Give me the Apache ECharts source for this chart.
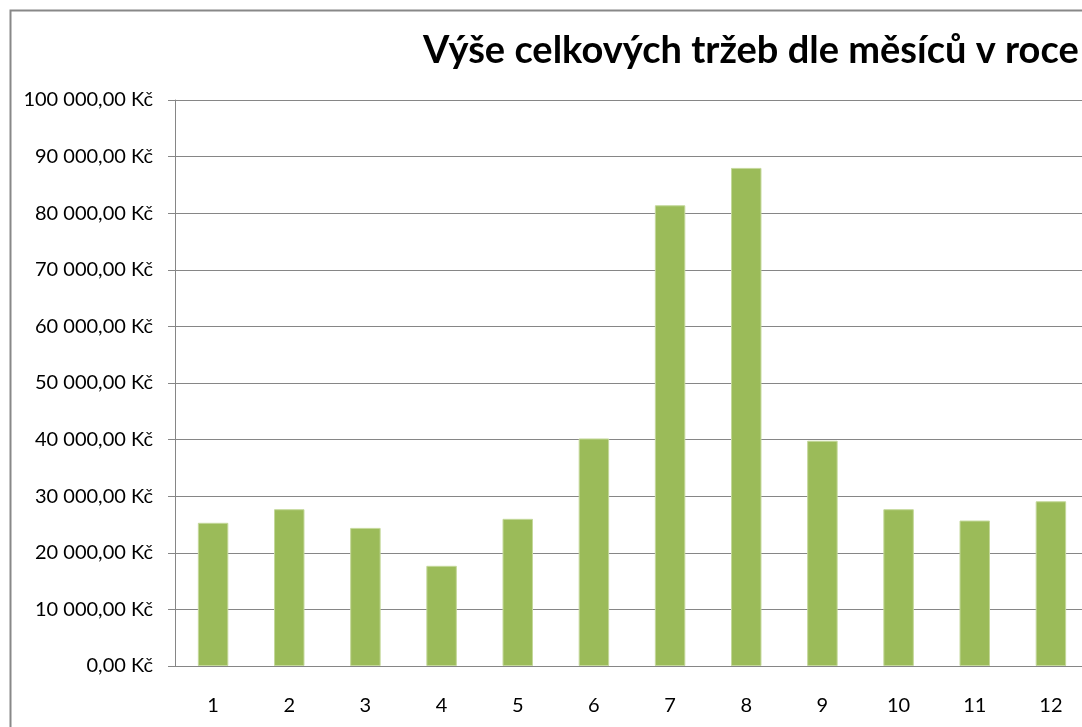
<!DOCTYPE html>
<html>
<head>
<meta charset="utf-8">
<script src="https://cdn.jsdelivr.net/npm/echarts@6/dist/echarts.min.js"></script>
<style>
  html, body { margin: 0; padding: 0; background: #fff; overflow: hidden; width: 1082px; height: 727px; }
  /* the original chart is cut off at the right edge */
  #chart { width: 1090px; height: 727px; }
</style>
</head>
<body>
<div id="chart"></div>
<script>
// měsíce a tržby (Kč)
const months = ['1', '2', '3', '4', '5', '6', '7', '8', '9', '10', '11', '12']
const revenue = [25300, 27700, 24400, 17700, 26000, 40200, 81400, 88000, 39800, 27700, 25700, 29100]
const titleText = 'Výše celkových tržeb dle měsíců v roce'

const FONT = 'Lato, "Open Sans", sans-serif'
const AXIS = '#868686'

function czk(v) {
  const s = Math.round(v).toString().replace(/\B(?=(\d{3})+(?!\d))/g, ' ')
  return s + ',00 Kč'
}

const chart = echarts.init(document.getElementById('chart'))
chart.setOption({
  animation: false,
  backgroundColor: '#fff',
  title: {
    text: titleText, left: 418, top: 27,
    textStyle: { fontFamily: FONT, fontWeight: 'bold', fontSize: 38, color: '#000' },
  },
  graphic: [{
    type: 'rect', left: 8, top: 8, silent: true,
    shape: { width: 1200, height: 900 },
    style: { fill: 'none', stroke: '#888', lineWidth: 2 },
  }],
  grid: { left: 175, right: 1, top: 100, bottom: 61 },
  xAxis: {
    type: 'category', data: months,
    axisLine: { lineStyle: { color: AXIS, width: 1 } },
    axisTick: { length: 7, lineStyle: { color: AXIS } },
    axisLabel: { color: '#000', fontFamily: FONT, fontSize: 20, margin: 30 },
  },
  yAxis: {
    type: 'value', min: 0, max: 100000, interval: 10000,
    axisLine: { show: true, lineStyle: { color: AXIS, width: 1 } },
    axisTick: { show: true, length: 7, lineStyle: { color: AXIS } },
    axisLabel: { color: '#000', fontFamily: FONT, fontSize: 20, margin: 22, formatter: czk },
    splitLine: { lineStyle: { color: AXIS, width: 1 } },
  },
  series: [{
    type: 'bar', data: revenue, barWidth: '40%',
    itemStyle: { color: '#9BBB59', borderColor: '#c4d89a', borderWidth: 1 },
  }],
})
</script>
</body>
</html>
